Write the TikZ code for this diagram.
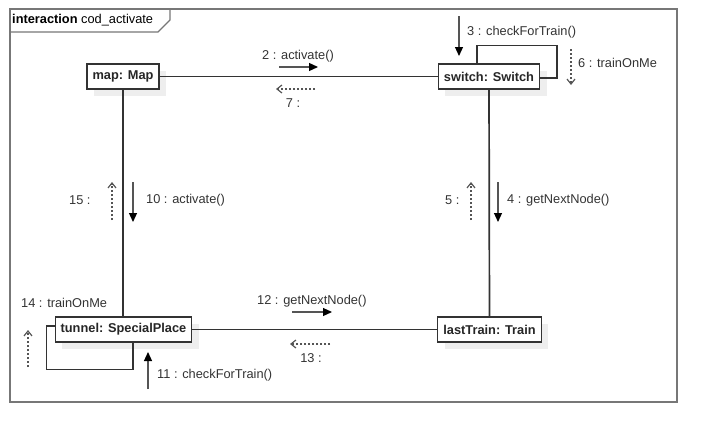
\documentclass[tikz,border=0pt]{standalone}
\usepackage{fontspec}
\setmainfont{Liberation Sans}
\usetikzlibrary{arrows.meta,shadows}
\definecolor{UMLInk}{HTML}{333333}
\definecolor{UMLFrame}{HTML}{777777}
\definecolor{UMLShade}{HTML}{EEEEEE}
\definecolor{UMLMsg}{HTML}{555555}
\tikzset{
  umlobj/.style={
    draw=UMLInk,
    fill=white,
    line width=1.1pt,
    inner xsep=5.5pt,
    minimum height=25pt,
    font=\fontsize{12.8}{14}\selectfont\bfseries,
    text=black!85,
    drop shadow={shadow xshift=7pt,shadow yshift=-7pt,fill=UMLShade,opacity=1}
  },
  umllink/.style={draw=UMLInk,line width=1.7pt},
  umlcall/.style={-{Triangle[length=9pt,width=8pt,color=black]},draw=UMLMsg,line width=1.2pt},
  umlreply/.style={-{Straight Barb[length=5pt,width=8pt]},draw=UMLMsg,line width=1.2pt,
    dash pattern=on 2pt off 2pt},
  umllabel/.style={font=\fontsize{12.8}{14}\selectfont,text=black!80,inner sep=0pt}
}
\begin{document}
\begin{tikzpicture}[x=1pt,y=-1pt]
  \useasboundingbox (0,0) rectangle (717,442);
  % frame
  \draw[draw=UMLFrame,line width=1.5pt] (10,9) rectangle (677,402);
  \draw[draw=UMLFrame,line width=1.2pt] (10,32) -- (158,32) -- (170,20) -- (170,9);
  \node[umllabel,anchor=west,text=black] (title) at (12,20) {\textbf{interaction} cod\_activate};

  % objects
  \node[umlobj] (map) at (123,76.5) {map: Map};
  \node[umlobj] (switch) at (489,76.5) {switch: Switch};
  \node[umlobj] (tunnel) at (123.5,329.5) {tunnel: SpecialPlace};
  \node[umlobj] (lastTrain) at (489.5,329.5) {lastTrain: Train};

  % links
  \draw[umllink] (map) -- (switch);
  \draw[umllink] (switch) -- (lastTrain);
  \draw[umllink] (tunnel) -- (lastTrain);
  \draw[umllink] (map.south) -- (tunnel.north -| map.south);
  \draw[umllink] ([xshift=-12pt]switch.north) |- ([xshift=17pt,yshift=18pt]switch.north east)
    |- ([yshift=-1.5pt]switch.east);
  \draw[umllink] ([yshift=3.5pt]tunnel.west) -| ([xshift=-8pt,yshift=-27pt]tunnel.south west)
    -| ([xshift=9.5pt]tunnel.south);

  % message ends
  \coordinate (m2a) at (279,67);   \coordinate (m2b) at (318,67);
  \coordinate (m7a) at (315,89);   \coordinate (m7b) at (276,89);
  \coordinate (m3a) at (459,16);   \coordinate (m3b) at (459,56);
  \coordinate (m6a) at (571,49);   \coordinate (m6b) at (571,85);
  \coordinate (m10a) at (133,182); \coordinate (m10b) at (133,222);
  \coordinate (m15a) at (112,220); \coordinate (m15b) at (112,182);
  \coordinate (m4a) at (498,182);  \coordinate (m4b) at (498,222);
  \coordinate (m5a) at (471,220);  \coordinate (m5b) at (471,182);
  \coordinate (m14a) at (28,367);  \coordinate (m14b) at (28,330);
  \coordinate (m11a) at (148,389); \coordinate (m11b) at (148,352);
  \coordinate (m12a) at (292,312); \coordinate (m12b) at (332,312);
  \coordinate (m13a) at (330,344); \coordinate (m13b) at (290,344);

  % messages
  \draw[umlcall] (m2a) -- (m2b);
  \draw[umlreply] (m7a) -- (m7b);
  \draw[umlcall] (m3a) -- (m3b);
  \draw[umlreply] (m6a) -- (m6b);
  \draw[umlcall] (m10a) -- (m10b);
  \draw[umlreply] (m15a) -- (m15b);
  \draw[umlcall] (m4a) -- (m4b);
  \draw[umlreply] (m5a) -- (m5b);
  \draw[umlreply] (m14a) -- (m14b);
  \draw[umlcall] (m11a) -- (m11b);
  \draw[umlcall] (m12a) -- (m12b);
  \draw[umlreply] (m13a) -- (m13b);

  % message labels
  \node[umllabel] (l2) at (298,56) {2 : activate()};
  \node[umllabel] (l7) at (293,103) {7 :};
  \node[umllabel,anchor=west] (l3) at (467,32) {3 : checkForTrain()};
  \node[umllabel,anchor=west] (l6) at (578,63) {6 : trainOnMe};
  \node[umllabel,anchor=west] (l10) at (146,200) {10 : activate()};
  \node[umllabel,anchor=west] (l15) at (69,200) {15 :};
  \node[umllabel,anchor=west] (l4) at (507,200) {4 : getNextNode()};
  \node[umllabel,anchor=west] (l5) at (445,200) {5 :};
  \node[umllabel,anchor=west] (l14) at (21,303) {14 : trainOnMe};
  \node[umllabel,anchor=west] (l12) at (257,301) {12 : getNextNode()};
  \node[umllabel] (l13) at (311,358) {13 :};
  \node[umllabel,anchor=west] (l11) at (157,375) {11 : checkForTrain()};
\end{tikzpicture}
\end{document}
